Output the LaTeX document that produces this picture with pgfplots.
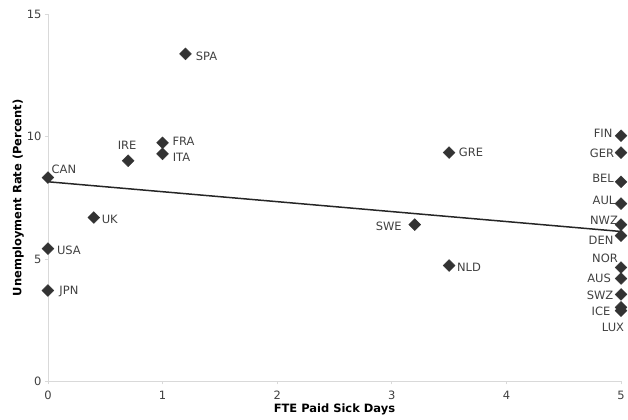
\documentclass[border=0pt]{standalone}
\usepackage{pgfplots}
\pgfplotsset{compat=1.18}
\usepackage{pgfplotstable}
\usepackage{fontspec}
\setmainfont{DejaVu Sans}
\definecolor{axgray}{HTML}{D9D9D9}
\definecolor{txtgray}{HTML}{404040}
\definecolor{mk}{HTML}{333333}
\pgfplotstableread{
x y lab dx dy
1.2 13.37 SPA 21 -2
1.0 9.74 FRA 21 2
1.0 9.29 ITA 19 -3
0.7 9.01 IRE -1 15
0 8.32 CAN 16 8
0.4 6.69 UK 16 -2
0 5.42 USA 21 -2
0 3.71 JPN 21 -1
3.5 9.34 GRE 22 0
3.2 6.40 SWE -26 -2
3.5 4.73 NLD 20 -2
5 10.03 FIN -18 2
5 9.34 GER -19 -1
5 8.15 BEL -18 3
5 7.26 AUL -17 3
5 6.40 NWZ -17 4
5 5.95 DEN -20 -5
5 4.65 NOR -16 9
5 4.20 AUS -22 0
5 3.55 SWZ -21 -1
5 3.02 ICE -20 -4
5 2.89 LUX -8 -17
}\pts
\begin{document}
\begin{tikzpicture}
\begin{axis}[
  scale only axis, width=574pt, height=368pt,
  xmin=0, xmax=5, ymin=0, ymax=15,
  xtick={0,1,2,3,4,5}, ytick={0,5,10,15},
  axis x line*=bottom, axis y line*=left,
  axis line style={axgray, line width=0.8pt},
  tick style={axgray, line width=0.8pt},
  tick align=outside, major tick length=3pt,
  ticklabel style={font=\fontsize{11.5}{13}\selectfont, text=txtgray},
  xticklabel style={yshift=-3pt},
  /pgf/number format/assume math mode=true,
  xlabel={\textbf{FTE Paid Sick Days}},
  ylabel={\textbf{Unemployment Rate (Percent)}},
  label style={font=\fontsize{11.5}{13}\selectfont},
  xlabel style={yshift=3pt},
  ylabel style={yshift=-4pt},
  clip=false,
]
\addplot[color=black!85, line width=1.5pt, no markers] coordinates {(0,8.15) (5,6.12)};
\addplot[only marks, mark=square*, mark size=4.2pt, mark options={fill=mk, draw=mk, rotate=45},
  point meta=explicit symbolic,
  visualization depends on={\thisrow{dx}\as\mydx},
  visualization depends on={\thisrow{dy}\as\mydy},
  nodes near coords,
  nodes near coords style={anchor=center, xshift=\mydx pt, yshift=\mydy pt,
     font=\fontsize{11.5}{13}\selectfont, text=txtgray, inner sep=0pt},
] table[x=x, y=y, meta=lab] {\pts};
\end{axis}
\path ([shift={(-48pt,-38pt)}]current axis.south west) rectangle ([shift={(6pt,14pt)}]current axis.north east);
\end{tikzpicture}
\end{document}
